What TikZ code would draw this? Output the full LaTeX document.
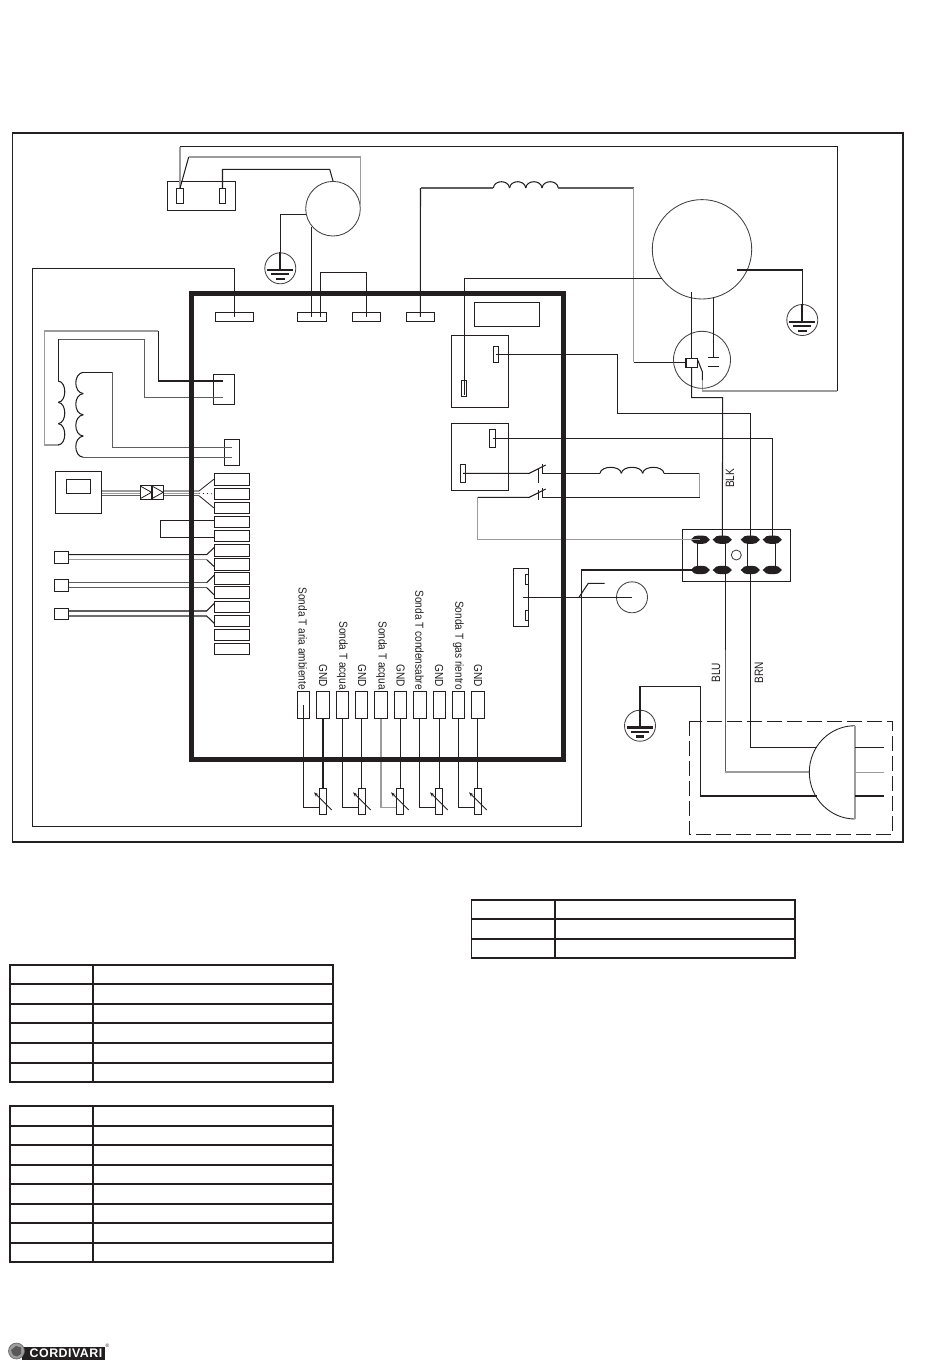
\documentclass[tikz,border=0pt]{standalone}
\usepackage{fontspec}
\setmainfont{Liberation Sans}
\usetikzlibrary{arrows.meta}
\definecolor{ink}{HTML}{231F20}
\definecolor{wgray}{HTML}{9C9C9C}
\definecolor{dgray}{HTML}{5E5E5E}
\tikzset{
  wire/.style={draw=ink,line width=1.05pt,line join=miter},
  gwire/.style={draw=wgray,line width=1.25pt,line join=miter},
  mwire/.style={draw=dgray,line width=1.1pt,line join=miter},
  box/.style={draw=ink,line width=1.1pt,inner sep=0pt,rectangle},
  ring/.style={draw=ink!85,line width=0.85pt,circle,inner sep=0pt},
  rowline/.style={draw=ink,line width=1.6pt,line cap=rect},
  lbl/.style={inner sep=0pt,text=ink,font=\fontsize{10.1}{12}\selectfont},
  probe/.style={lbl,rotate=-90,yscale=1.15,anchor=east},
  side/.style={lbl,rotate=90,yscale=1.2}
}
\newcommand{\bumpsH}[5]{\foreach \i in {1,...,#4}{\draw[wire] ({#1+(\i-1)*#3},#2) .. controls ({#1+(\i-1)*#3+1},{#2-1.33*#5}) and ({#1+\i*#3-1},{#2-1.33*#5}) .. ({#1+\i*#3},#2);}}
\newcommand{\bumpsV}[5]{\foreach \i in {1,...,#4}{\draw[wire] (#1,{#2+(\i-1)*#3}) .. controls ({#1+1.33*#5},{#2+(\i-1)*#3+1}) and ({#1+1.33*#5},{#2+\i*#3-1}) .. (#1,{#2+\i*#3});}}
\newcommand{\earth}[3]{%
  \node[ring,minimum size=31pt,fill=white] (#1) at (#2,#3) {};
  \draw[ink,line width=2pt] (#1.north) ++(0,0) -- (#2,#3+2);
  \fill[ink] (#2-13,#3+0.5) rectangle (#2+13,#3+3);
  \fill[ink] (#2-9,#3+4.8) rectangle (#2+9,#3+7);
  \fill[ink] (#2-4.2,#3+9.6) rectangle (#2+4.2,#3+12);
}
\newcommand{\lug}[3]{%
  \coordinate (#1) at (#2,#3);
  \fill[ink] (#2-9.6,#3) -- (#2-6,#3-3.4) -- (#2-2.5,#3-4.1) -- (#2+2.5,#3-4.1) -- (#2+6,#3-3.4) -- (#2+9.6,#3) -- (#2+6,#3+3.4) -- (#2+2.5,#3+4.1) -- (#2-2.5,#3+4.1) -- (#2-6,#3+3.4) -- cycle;
}
\newcommand{\thermistor}[3]{%
  \node[box,fill=white,minimum width=7.3pt,minimum height=26pt] (#1) at (#2,#3) {};
  \draw[wire,line width=0.9pt,-{Stealth[length=4.5pt,width=3.4pt]}] (#2+8.7,#3+8.7) -- (#2-9,#3-9);
}
\begin{document}
\begin{tikzpicture}[x=1pt,y=-1pt]
\useasboundingbox (0,0) rectangle (950,1369);
\fill[white] (0,0) rectangle (950,1369);

%---------- outer frame
\draw[ink,line width=1.7pt] (12.5,133) rectangle (902.7,841.7);

%---------- top row terminals
\node[box,minimum width=38pt,minimum height=9pt] (t1) at (234.3,316.8) {};
\node[box,minimum width=29pt,minimum height=9pt] (t2) at (311.8,316.8) {};
\node[box,minimum width=28pt,minimum height=9pt] (t3) at (366.3,316.8) {};
\node[box,minimum width=28pt,minimum height=9pt] (t4) at (420.3,316.8) {};
\node[box,minimum width=65.4pt,minimum height=24pt] (disp) at (507,314.3) {};

%---------- fan connector
\node[box,minimum width=68.4pt,minimum height=29pt] (fbox) at (201.5,195.8) {};
\node[box,minimum width=7pt,minimum height=15pt] (f1) at (180,195.8) {};
\node[box,minimum width=6.4pt,minimum height=15pt] (f2) at (222.5,195.8) {};
\node[ring,minimum size=54.6pt] (fan) at (333,208.7) {};
\coordinate (f1top) at (180,188.3);
\coordinate (f2top) at (222.5,188.3);
\coordinate (fanr) at (360.3,205);
\coordinate (fanl) at (305.7,214.3);
\coordinate (fanb) at (311.3,226.7);
\coordinate (t2a) at (311.3,316.8);
\coordinate (t2b) at (320.3,316.8);
\earth{g1}{280.3}{268.3}
\draw[gwire] (f1top) -- (180,146.7);
\draw[wire] (180,146.7) -- (837.3,146.7) -- (837.3,391);
\draw[gwire] (837.3,391) -- (702.3,391) -- (702.3,380);
\draw[wire] (f1top) -- (188.7,157);
\draw[gwire] (188.7,157) -- (360.3,157) -- (fanr);
\draw[wire] (f2top) |- (329.7,169.3) -- (fan.north);
\draw[wire] (fanl) -| (g1.north);
\draw[wire] (fanb) -- (t2a);
\draw[wire] (t2b) |- (366.3,272.3) -- (t3.center);

%---------- t1 long loop to terminal block
\coordinate (L1) at (700.3,570);
\draw[wire] (t1.center) |- (32.5,268.3) |- (581.3,826.3) |- (L1);

%---------- t4 and contactor coil
\coordinate (rc) at (685,362.3);
\draw[wire] (t4.center) -- (420.5,188);
\draw[mwire] (420.5,188) -- (493.3,188);
\bumpsH{493.3}{188}{16.25}{4}{6.3}
\draw[mwire] (558.3,188) -- (633.7,188);
\draw[gwire] (633.7,188) -- (633.7,362.3);
\draw[wire] (633.7,362.3) -- (rc);

%---------- compressor
\node[ring,minimum size=99.4pt] (comp) at (702,249.3) {};
\earth{g2}{802.3}{320}
\node[ring,minimum size=57pt] (relay) at (702,359.8) {};
\node[box,line width=.7pt,minimum width=11pt,minimum height=9pt] (rcoil) at (691.6,362.8) {};
\draw[wire] (685.5,358) -- (685.5,367.6);
\coordinate (compA) at (661.7,278.3);
\coordinate (compB) at (691.7,291.7);
\coordinate (compC) at (713.3,297);
\coordinate (compD) at (737,270);
\coordinate (relayT) at (691.7,358);
\coordinate (relayB) at (691.7,367.5);
\draw[wire] (compA) -- (464.3,278.3) -- (464.3,395);
\draw[wire] (compB) -- (relayT);
\draw[wire] (compC) -- (713.3,357.3);
\draw[wire] (708,357.3) -- (718.7,357.3);
\draw[wire] (708,366.7) -- (718.7,366.7);
\draw[wire] (697.7,360) -- (702.3,371.7) -- (702.3,380);
\draw[wire] (compD) -| (g2.north);

%---------- PTC boxes
\node[box,minimum width=57.4pt,minimum height=72pt] (bA) at (480,371.3) {};
\node[box,minimum width=5.3pt,minimum height=16pt] (a1) at (496,354.3) {};
\node[box,minimum width=5.3pt,minimum height=16pt] (a2) at (464,388.3) {};
\node[box,minimum width=57.4pt,minimum height=67.4pt] (bB) at (480,457) {};
\node[box,minimum width=6.3pt,minimum height=18pt] (b1) at (492.5,438.3) {};
\node[box,minimum width=5.4pt,minimum height=18pt] (b2) at (463,473.3) {};

%---------- terminal block
\node[box,minimum width=108.4pt,minimum height=52pt] (tb) at (736.5,555.3) {};
\node[ring,minimum size=10pt] (tbh) at (736.3,555) {};
\draw[wire] (697.7,539.7) -- (697.7,570);
\draw[wire] (725.3,539.7) -- (725.3,570);
\draw[wire] (747.7,539.7) -- (747.7,570);
\draw[wire] (775.3,539.7) -- (775.3,570);
\lug{l1}{700.3}{539.7}
\lug{l2}{722.3}{539.7}
\lug{l3}{750.3}{539.7}
\lug{l4}{772.3}{539.7}
\lug{l5}{700.3}{570}
\lug{l6}{722.3}{570}
\lug{l7}{750.3}{570}
\lug{l8}{772.3}{570}

%---------- wiring to terminal block
\draw[wire] (relayB) |- (722.7,397.7) -- (l2);
\draw[wire] (a1.center) -- (617.3,354.3) |- (750.3,413.3) -- (l3);
\draw[wire] (b1.center) -| (l4);

%---------- contactor
\coordinate (c1a) at (529.3,473.3);
\coordinate (c1b) at (545.7,465);
\coordinate (c1c) at (542.3,473.3);
\coordinate (c2a) at (529.3,497.3);
\coordinate (c2b) at (545.7,489);
\coordinate (c2c) at (542.3,497.3);
\draw[wire] (b2.center) -- (c1a) -- (c1b);
\draw[wire] (542.3,464.3) -- (c1c) -- (600,473.3);
\bumpsH{600}{473.3}{21.33}{3}{6}
\draw[wire] (664,473.3) -- (699.7,473.3);
\draw[gwire] (699.7,473.3) -- (699.7,497.3);
\draw[wire] (699.7,497.3) -- (c2c) -- (542.3,488);
\draw[wire] (c2b) -- (c2a) -- (477.7,497.3);
\draw[wire] (538.3,468) -- (538.3,483.3);
\draw[wire] (538.3,490) -- (538.3,500);
\draw[gwire] (477.7,497.3) -- (477.7,539.7) -- (l1);

%---------- fuse / sensor
\node[box,minimum width=15.4pt,minimum height=58pt] (fuse) at (521,597.3) {};
\node[box,minimum width=3.4pt,minimum height=9.6pt] (fu1) at (527,579.5) {};
\node[box,minimum width=3.4pt,minimum height=10.4pt] (fu2) at (527,615.5) {};
\node[ring,minimum size=31pt] (pres) at (632,597.3) {};
\coordinate (fuc) at (523.3,597.3);
\draw[wire] (fuc) -- (pres.center);
\draw[wire] (579,597.3) -- (588.3,583.3) -- (604.7,583.3);

%---------- mains
\earth{g3}{640}{725.7}
\coordinate (plugA) at (816.7,747.3);
\coordinate (plugB) at (809.3,772);
\coordinate (plugC) at (816.7,796);
\draw[wire] (g3.north) |- (700.3,686.7) |- (plugC);
\draw[wire] (l7) |- (plugA);
\draw[wire] (725.3,570) -- (725.3,650);
\draw[mwire] (725.3,650) -- (725.3,772);
\draw[gwire] (725.3,772) -- (plugB);
\draw[ink,line width=1pt,dash pattern=on 15pt off 5pt] (689.3,721.3) rectangle (892.7,834.3);
\draw[wire,line width=0.85pt] (855,725.7) .. controls (830,725.7) and (809.3,746) .. (809.3,772.3) .. controls (809.3,798) and (830,819) .. (855,819);
\draw[gwire] (855,725.7) -- (855,819);
\draw[wire] (855,747.3) -- (884.3,747.3);
\draw[gwire] (855,772.3) -- (884.3,772.3);
\draw[wire] (855,796) -- (884.3,796);

%---------- transformer
\node[box,minimum width=21pt,minimum height=30pt] (tr1) at (223.8,389.3) {};
\node[box,minimum width=15pt,minimum height=26pt] (tr2) at (231.8,452.3) {};
\coordinate (tr1a) at (223.3,381);
\coordinate (tr1b) at (223.3,397.7);
\coordinate (tr2a) at (231.7,447.3);
\coordinate (tr2b) at (231.7,457.3);
\draw[wire] (tr1a) -- (158.3,381) -- (158.3,331);
\draw[gwire] (158.3,331) -- (44.3,331) -- (44.3,445) -- (59,445);
\draw[mwire] (tr1b) -- (144.3,397.7) -- (144.3,339.3) -- (58.3,339.3);
\draw[wire] (58.3,339.3) -- (58.3,381);
\bumpsV{58.3}{381}{21.33}{3}{6.5}
\foreach \i in {1,...,4}{\draw[wire] (83.3,{372.3+(\i-1)*21.25}) .. controls (73.3,{372.3+(\i-1)*21.25+1}) and (73.3,{372.3+\i*21.25-1}) .. (83.3,{372.3+\i*21.25});}
\draw[wire] (83.3,372.3) -- (112.7,372.3);
\draw[mwire] (112.7,372.3) -- (112.7,447.3) -- (tr2a);
\draw[mwire] (83.3,457.3) -- (tr2b);

%---------- terminal strip
\foreach \n/\yy/\hh in {1/479.3/12,2/493.8/11,3/507.8/11,4/522/11.4,5/535.8/11,6/550.5/11.6,7/564.3/12,8/578.5/11.6,9/592.3/12,10/607.2/11,11/621/10.6,12/635/10.6,13/648.8/11}{
  \node[box,minimum width=35.4pt,minimum height=\hh pt] (s\n) at (232,\yy) {};
}
%---------- display
\node[box,minimum width=46.4pt,minimum height=42pt] (hmi) at (78.5,492.3) {};
\node[box,minimum width=24.4pt,minimum height=14.4pt] (hmis) at (78.5,486.5) {};
\coordinate (hub1) at (199,491);
\coordinate (hub2) at (199,493.3);
\coordinate (hub3) at (199,495.7);
\draw[gwire] (101.7,491) -- (hub1);
\draw[gwire,line width=.6pt] (101.7,493.3) -- (hub2);
\draw[mwire] (101.7,495.7) -- (hub3);
\draw[wire,line width=.8pt] (hub1) -- (s1.west);
\draw[wire,line width=.8pt,dash pattern=on 1pt off 3pt] (hub2) -- (s2.west);
\draw[wire,line width=.8pt] (hub3) -- (s3.west);
\node[box,fill=white,minimum width=23.4pt,minimum height=14pt] (rj) at (152,492.3) {};
\draw[wire] (152,485.3) -- (152,499.3);
\draw[wire,line width=.8pt] (140.3,486) -- (151.5,492.3) -- (140.3,498.6);
\draw[wire,line width=.8pt] (152,486) -- (163.2,492.3) -- (152,498.6);
%---------- jumper
\draw[wire] (214.3,520.3) -- (160.3,520.3) -- (160.3,537.3) -- (214.3,537.3);
%---------- external sensors
\node[box,minimum width=14.4pt,minimum height=12.4pt] (e1) at (61.5,557.5) {};
\node[box,minimum width=14.4pt,minimum height=12.4pt] (e2) at (61.5,585.5) {};
\node[box,minimum width=14.4pt,minimum height=11pt] (e3) at (61.5,614.2) {};
\draw[wire] (68.7,554.7) -- (206.7,554.7) -- (214.3,547.3);
\draw[gwire] (68.7,559.7) -- (206.7,559.7);
\draw[wire] (206.7,559.7) -- (214.3,566.7);
\draw[mwire] (68.7,582.7) -- (206.7,582.7);
\draw[wire] (206.7,582.7) -- (214.3,575);
\draw[mwire] (68.7,587.7) -- (206.7,587.7);
\draw[wire] (206.7,587.7) -- (214.3,595);
\draw[mwire] (68.7,611) -- (206.7,611);
\draw[wire] (206.7,611) -- (214.3,603.3);
\draw[wire] (68.7,616) -- (206.7,616) -- (214.3,623.3);

%---------- probes
\foreach \n/\xx/\ww in {1/303.3/12,2/323/13.4,3/342.3/12,4/361.5/12.4,5/381/12.6,6/400.5/12.4,7/419.7/12.7,8/439.5/12.4,9/458.3/12,10/477.8/13}{
  \node[box,minimum width=\ww pt,minimum height=27pt] (p\n) at (\xx,704.8) {};
}
\draw[wire] (p1.center) -- (303.3,807.7) -- (319.3,807.7);
\draw[wire] (p2.south) -- (323,788.3);
\draw[wire] (p3.south) -- (342.3,807.7) -- (358.3,807.7);
\draw[wire] (p4.south) -- (361.5,788.3);
\draw[gwire] (p5.south) -- (381,807.7) -- (396.3,807.7);
\draw[wire] (p6.south) -- (400.5,788.3);
\draw[wire] (p7.south) -- (419.7,807.7) -- (435.3,807.7);
\draw[wire] (p8.south) -- (439.5,788.3);
\draw[wire] (p9.south) -- (458.3,807.7) -- (474.3,807.7);
\draw[wire] (p10.south) -- (477.8,788.3);
\thermistor{r1}{323}{801.3}
\thermistor{r2}{362}{801.3}
\thermistor{r3}{400}{801.3}
\thermistor{r4}{439}{801.3}
\thermistor{r5}{478}{801.3}

%---------- controller outline
\draw[ink,line width=4.6pt] (191.3,293.5) rectangle (563.5,759.5);

%---------- labels
\node[probe] (lp1) at (302.7,690) {Sonda T aria ambiente};
\node[probe] (lg1) at (323,687) {GND};
\node[probe] (lp2) at (342.3,690) {Sonda T acqua};
\node[probe] (lg2) at (362,687) {GND};
\node[probe] (lp3) at (381.5,690) {Sonda T acqua};
\node[probe] (lg3) at (400.5,687) {GND};
\node[probe] (lp4) at (419.5,690) {Sonda T condensabre};
\node[probe] (lg4) at (439,687) {GND};
\node[probe] (lp5) at (458.3,690) {Sonda T gas rientro};
\node[probe] (lg5) at (478,687) {GND};
\node[side] (blk) at (730,478.3) {BLK};
\node[side] (blu) at (716,672.7) {BLU};
\node[side] (brn) at (759,672.7) {BRN};

%---------- tables
\draw[rowline] (9.7,965) rectangle (333,1082);
\draw[rowline] (92.7,965) -- (92.7,1082);
\foreach \yy in {983.7,1003.7,1022.7,1042.7,1062.7}{\draw[rowline] (9.7,\yy) -- (333,\yy);}
\draw[rowline] (9.7,1106) rectangle (333,1261.7);
\draw[rowline] (92.7,1106) -- (92.7,1261.7);
\foreach \yy in {1125.7,1145,1164.7,1183.7,1203.7,1222.7,1242.7}{\draw[rowline] (9.7,\yy) -- (333,\yy);}
\draw[rowline] (471.3,899.7) rectangle (795,957.7);
\draw[rowline] (555,899.7) -- (555,957.7);
\foreach \yy in {918.7,938.7}{\draw[rowline] (471.3,\yy) -- (795,\yy);}

%---------- logo
\fill[ink] (22,1347) rectangle (105,1359.5);
\node[circle,fill=wgray,draw=ink!70,line width=.6pt,minimum size=16pt,inner sep=0pt] (lgc) at (16.5,1351) {};
\fill[ink!75] (11,1350) -- (16,1346) -- (21,1347.5) -- (21,1354) -- (17,1356.5) -- (13,1355) -- cycle;
\node[inner sep=0pt,text=white,font=\fontsize{12.4}{12}\bfseries\selectfont] (lgt) at (66,1353.4) {\addfontfeatures{LetterSpace=4}CORDIVARI};
\node[inner sep=0pt,text=ink,font=\fontsize{5}{5}\selectfont] (lgr) at (107.5,1345.5) {®};
\end{tikzpicture}
\end{document}
